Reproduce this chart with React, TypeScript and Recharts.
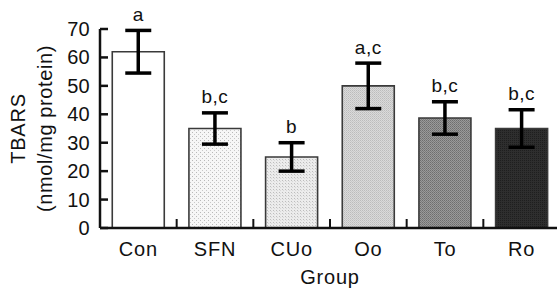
import React from "react";
import { BarChart, Bar, XAxis, YAxis, ErrorBar, Cell, LabelList } from "recharts";

const groups = ["Con", "SFN", "CUo", "Oo", "To", "Ro"];
const tbars = [62, 35, 25, 50, 38.7, 35];
const errors = [7.5, 5.5, 5, 8, 5.7, 6.6];
const letters = ["a", "b,c", "b", "a,c", "b,c", "b,c"];
const yTicks = [0, 10, 20, 30, 40, 50, 60, 70];
const fills = ["#ffffff", "url(#pSFN)", "url(#pCUo)", "url(#pOo)", "url(#pTo)", "url(#pRo)"];

const data = groups.map((g, i) => ({ group: g, value: tbars[i], err: errors[i], label: letters[i] }));

const FONT = "'Liberation Sans', Arial, sans-serif";

const YTick = (props: any) => {
  const { x, y, payload } = props;
  return (
    <g>
      <line x1={x + 10} x2={x + 18} y1={y} y2={y} stroke="#111" strokeWidth={2.5} />
      <text x={x} y={y} textAnchor="end" dominantBaseline="central" fontFamily={FONT} fontSize={20} fill="#111" letterSpacing={0.3}>
        {payload.value}
      </text>
    </g>
  );
};

const XTick = (props: any) => {
  const { x, y, payload, index } = props;
  const off = payload && payload.offset ? payload.offset : 38.33;
  return (
    <g>
      {index > 0 && <line x1={x - off} x2={x - off} y1={y} y2={y - 9} stroke="#111" strokeWidth={2} />}
      <text x={x} y={y + 21} textAnchor="middle" dominantBaseline="central" fontFamily={FONT} fontSize={20} fill="#111" letterSpacing={0.8}>
        {payload.value}
      </text>
    </g>
  );
};

const YLabel = (props: any) => {
  const vb = props.viewBox || { x: 0, y: 29, width: 100, height: 199 };
  const cy = vb.y + vb.height / 2;
  return (
    <g fontFamily={FONT} fontSize={20} fill="#111">
      <text x={18} y={cy} textAnchor="middle" dominantBaseline="central" transform={`rotate(-90 18 ${cy})`} letterSpacing={0.8}>
        TBARS
      </text>
      <text x={45} y={cy} textAnchor="middle" dominantBaseline="central" transform={`rotate(-90 45 ${cy})`} letterSpacing={0.6}>
        (nmol/mg protein)
      </text>
    </g>
  );
};

const XLabel = (props: any) => {
  const vb = props.viewBox || { x: 100, y: 228, width: 460, height: 64 };
  return (
    <text x={vb.x + vb.width / 2} y={vb.y + 49} textAnchor="middle" dominantBaseline="central" fontFamily={FONT} fontSize={20} fill="#111" letterSpacing={0.8}>
      Group
    </text>
  );
};

const LetterLabel = (props: any) => {
  const { x, y, width, height, value, index } = props;
  const v = tbars[index];
  const e = errors[index];
  const errPx = v ? (e * height) / v : 0;
  return (
    <text x={x + width / 2} y={y - errPx - 16} textAnchor="middle" dominantBaseline="central" fontFamily={FONT} fontSize={19} fill="#111" letterSpacing={0.5}>
      {value}
    </text>
  );
};

export default function App() {
  return (
    <div style={{ position: "absolute", left: 0, top: 0, background: "#fff" }}>
      <BarChart
        width={562}
        height={292}
        data={data}
        margin={{ top: 29, right: 2, bottom: 0, left: 0 }}
        barCategoryGap="16%"
      >
        <defs>
          <pattern id="pSFN" width="4" height="4" patternUnits="userSpaceOnUse">
            <rect width="4" height="4" fill="#f6f6f6" />
            <rect x="0" y="0" width="1" height="1" fill="#b8b8b8" />
            <rect x="2" y="2" width="1" height="1" fill="#c8c8c8" />
          </pattern>
          <pattern id="pCUo" width="3" height="3" patternUnits="userSpaceOnUse">
            <rect width="3" height="3" fill="#ececec" />
            <rect x="0" y="0" width="1" height="1" fill="#bdbdbd" />
            <rect x="1" y="1" width="1" height="1" fill="#d8d8d8" />
          </pattern>
          <pattern id="pOo" width="2" height="2" patternUnits="userSpaceOnUse">
            <rect width="2" height="2" fill="#dadada" />
            <rect x="0" y="0" width="1" height="1" fill="#bcbcbc" />
            <rect x="1" y="1" width="1" height="1" fill="#c8c8c8" />
          </pattern>
          <pattern id="pTo" width="2" height="2" patternUnits="userSpaceOnUse">
            <rect width="2" height="2" fill="#9a9a9a" />
            <rect x="0" y="0" width="1" height="1" fill="#6e6e6e" />
            <rect x="1" y="1" width="1" height="1" fill="#7c7c7c" />
          </pattern>
          <pattern id="pRo" width="2" height="2" patternUnits="userSpaceOnUse">
            <rect width="2" height="2" fill="#2e2e2e" />
            <rect x="0" y="0" width="1" height="1" fill="#1e1e1e" />
          </pattern>
        </defs>
        <XAxis
          dataKey="group"
          height={64}
          tickSize={0}
          tickMargin={0}
          tickLine={false}
          axisLine={{ stroke: "#111", strokeWidth: 2.5 }}
          tick={<XTick />}
          interval={0}
          label={<XLabel />}
        />
        <YAxis
          width={100}
          domain={[0, 70]}
          ticks={yTicks}
          tickSize={0}
          tickMargin={10}
          tickLine={false}
          axisLine={{ stroke: "#111", strokeWidth: 2.5 }}
          tick={<YTick />}
          label={<YLabel />}
        />
        <Bar dataKey="value" stroke="#3a3a3a" strokeWidth={1.6} isAnimationActive={false}>
          {data.map((d, i) => (
            <Cell key={d.group} fill={fills[i]} />
          ))}
          <ErrorBar dataKey="err" direction="y" width={13} stroke="#000" strokeWidth={3.5} />
          <LabelList dataKey="label" content={<LetterLabel />} />
        </Bar>
      </BarChart>
    </div>
  );
}
